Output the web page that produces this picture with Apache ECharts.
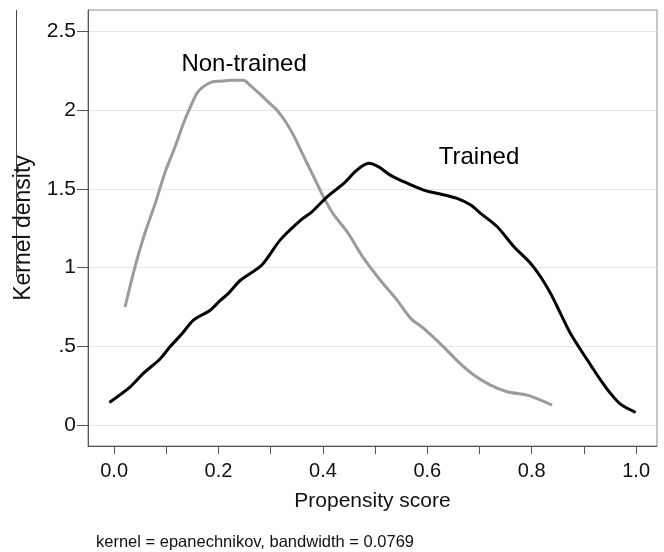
<!DOCTYPE html>
<html>
<head>
<meta charset="utf-8">
<script src="https://cdn.jsdelivr.net/npm/echarts@6/dist/echarts.min.js"></script>
<style>html,body{margin:0;padding:0;background:#fff;}#c{width:664px;height:552px;}</style>
</head>
<body>
<div id="c"></div>
<script>
// Non-trained kernel density (gray)
const nonTrainedX = [0.021, 0.040, 0.059, 0.079, 0.098, 0.117, 0.132, 0.146, 0.159, 0.171, 0.188, 0.203, 0.225, 0.248, 0.26, 0.277, 0.296, 0.312, 0.328, 0.344, 0.357, 0.37, 0.385, 0.401, 0.42, 0.446, 0.478, 0.51, 0.542, 0.568, 0.593, 0.631, 0.663, 0.689, 0.721, 0.753, 0.791, 0.817, 0.839];
const nonTrainedY = [0.75, 1.005, 1.22, 1.41, 1.61, 1.77, 1.91, 2.02, 2.11, 2.15, 2.18, 2.185, 2.19, 2.19, 2.16, 2.11, 2.05, 2.0, 1.93, 1.84, 1.75, 1.66, 1.56, 1.45, 1.34, 1.23, 1.06, 0.92, 0.794, 0.678, 0.614, 0.497, 0.39, 0.318, 0.254, 0.212, 0.19, 0.159, 0.127];
// Trained kernel density (black)
const trainedX = [-0.009, 0.031, 0.056, 0.088, 0.107, 0.13, 0.152, 0.184, 0.203, 0.219, 0.242, 0.283, 0.318, 0.357, 0.379, 0.408, 0.44, 0.465, 0.488, 0.507, 0.529, 0.555, 0.593, 0.625, 0.657, 0.683, 0.702, 0.734, 0.766, 0.798, 0.817, 0.836, 0.855, 0.874, 0.894, 0.913, 0.932, 0.951, 0.970, 0.999];
const trainedY = [0.144, 0.243, 0.328, 0.42, 0.497, 0.58, 0.667, 0.73, 0.79, 0.837, 0.92, 1.017, 1.175, 1.30, 1.355, 1.45, 1.535, 1.62, 1.663, 1.64, 1.588, 1.546, 1.493, 1.468, 1.44, 1.398, 1.345, 1.26, 1.133, 1.027, 0.942, 0.837, 0.71, 0.583, 0.477, 0.381, 0.286, 0.201, 0.133, 0.081];

const xTickValues = [0, 0.1, 0.2, 0.3, 0.4, 0.5, 0.6, 0.7, 0.8, 0.9, 1.0];
const xLabelValues = [0, 0.2, 0.4, 0.6, 0.8, 1.0];
const xLabelTexts = ['0.0', '0.2', '0.4', '0.6', '0.8', '1.0'];
const yTickValues = [0, 0.5, 1, 1.5, 2, 2.5];
const yLabelTexts = ['0', '.5', '1', '1.5', '2', '2.5'];

const seriesNames = ['Non-trained', 'Trained'];
const labelPos = [[0.249, 2.29], [0.699, 1.70]];
const footnote = 'kernel = epanechnikov, bandwidth = 0.0769';

const FONT = '"Liberation Sans", Arial, Helvetica, sans-serif';
const zip = (xs, ys) => xs.map((x, i) => [x, ys[i]]);
const lookup = (vals, texts) => v => {
  const i = vals.findIndex(t => Math.abs(t - v) < 1e-6);
  return i >= 0 ? texts[i] : '';
};

const chart = echarts.init(document.getElementById('c'), null, {renderer: 'canvas'});
chart.setOption({
  animation: false,
  backgroundColor: '#fff',
  textStyle: {fontFamily: FONT},
  title: {
    text: footnote, left: 91, top: 529,
    textStyle: {fontFamily: FONT, fontSize: 16.5, fontWeight: 'normal', color: '#111'}
  },
  grid: {left: 88, top: 10, right: 7, bottom: 106, show: true, borderColor: '#8a8a8a', borderWidth: 1},
  xAxis: {
    type: 'value', min: -0.05, max: 1.04,
    name: 'Propensity score', nameLocation: 'middle', nameGap: 45,
    nameTextStyle: {fontFamily: FONT, fontSize: 21, color: '#111'},
    axisLine: {show: true, onZero: false, lineStyle: {color: '#555', width: 1}},
    axisTick: {show: true, customValues: xTickValues, length: 8, lineStyle: {color: '#555'}},
    axisLabel: {customValues: xLabelValues, formatter: lookup(xLabelValues, xLabelTexts), fontFamily: FONT, fontSize: 20, color: '#111', margin: 15},
    splitLine: {show: false}
  },
  yAxis: {
    type: 'value', min: -0.133, max: 2.637,
    name: 'Kernel density', nameLocation: 'middle', nameGap: 53,
    nameTextStyle: {fontFamily: FONT, fontSize: 23, color: '#111'},
    axisLine: {show: true, onZero: false, lineStyle: {color: '#555', width: 1}},
    axisTick: {show: true, customValues: yTickValues, length: 11, lineStyle: {color: '#555'}},
    axisLabel: {customValues: yTickValues, formatter: lookup(yTickValues, yLabelTexts), fontFamily: FONT, fontSize: 21, color: '#111', margin: 12},
    splitLine: {show: true, lineStyle: {color: '#e6e6e6', width: 1}}
  },
  series: [
    {
      name: seriesNames[0], type: 'line', data: zip(nonTrainedX, nonTrainedY),
      showSymbol: false, smooth: 0.3,
      lineStyle: {color: '#9b9b9b', width: 3}, itemStyle: {color: '#9b9b9b'},
      markPoint: {
        symbol: 'circle', symbolSize: 0, silent: true,
        label: {show: true, position: 'inside', formatter: seriesNames[0], fontFamily: FONT, fontSize: 24, color: '#000'},
        data: [{coord: labelPos[0]}]
      }
    },
    {
      name: seriesNames[1], type: 'line', data: zip(trainedX, trainedY),
      showSymbol: false, smooth: 0.3,
      lineStyle: {color: '#000', width: 3}, itemStyle: {color: '#000'},
      markPoint: {
        symbol: 'circle', symbolSize: 0, silent: true,
        label: {show: true, position: 'inside', formatter: seriesNames[1], fontFamily: FONT, fontSize: 24, color: '#000'},
        data: [{coord: labelPos[1]}]
      }
    }
  ],
  graphic: [
    {type: 'line', shape: {x1: 16.5, y1: 10, x2: 16.5, y2: 277}, style: {stroke: '#444', lineWidth: 1}, silent: true}
  ]
});
</script>
</body>
</html>
